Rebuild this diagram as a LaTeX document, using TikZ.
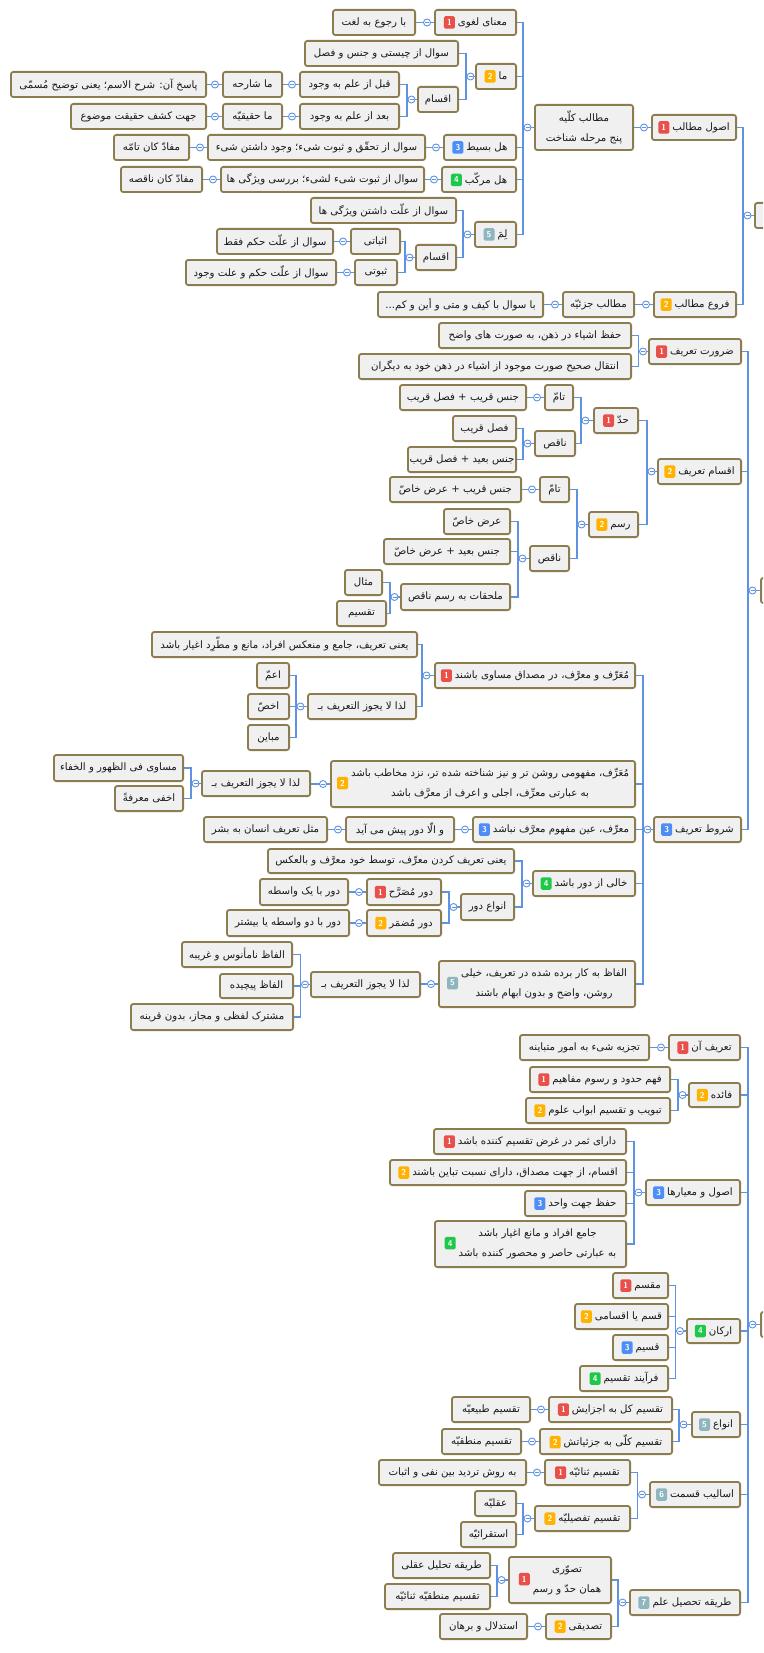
\documentclass[tikz,border=0pt]{standalone}
\usepackage{fontspec}
\newfontfamily\arfont[Script=Arabic]{DejaVu Sans}
\TeXXeTstate=1
\usetikzlibrary{calc}
\definecolor{edge}{RGB}{140,125,80}
\definecolor{boxfill}{RGB}{240,240,240}
\definecolor{conncol}{RGB}{96,146,226}
\definecolor{txt}{RGB}{25,25,25}
\definecolor{bA}{RGB}{233,80,74}
\definecolor{bB}{RGB}{255,178,0}
\definecolor{bC}{RGB}{77,141,245}
\definecolor{bD}{RGB}{30,200,75}
\definecolor{bE}{RGB}{143,182,190}
\pgfdeclarelayer{bg}
\pgfsetlayers{bg,main}
\tikzset{
 box/.style={draw=edge, fill=boxfill, line width=1.8pt, rounded corners=2.5pt, inner sep=1pt, text=txt, align=center, font=\arfont\fontsize{10.2}{12}\selectfont},
 conn/.style={draw=conncol, line width=1.2pt},
 coll/.style={circle, draw=conncol, fill=white, line width=0.9pt, minimum size=7pt, inner sep=0pt,
   path picture={\draw[conncol, line width=0.8pt] ([xshift=-2pt]path picture bounding box.center) -- ([xshift=2pt]path picture bounding box.center);}},
}
\newcommand\AR[1]{\beginR #1\endR}
\newcommand\BD[2]{\tikz[baseline={([yshift=-3.4pt]b.center)}]\node[draw=none,fill=#1,rounded corners=1.5pt,inner sep=0pt,minimum width=11pt,minimum height=12.5pt,text=white,anchor=center,font=\sffamily\bfseries\fontsize{8.5}{9}\selectfont](b){#2};\hspace{3pt}}
\newcommand\BX[6]{\node[box,minimum width={(#3-#2-1.8)*1pt},minimum height={(#5-#4-1.8)*1pt}] (#1) at ({(#2+#3)/2},{(#4+#5)/2}) {#6};}
\newcommand\KIDS[3][10]{%
 \begin{pgfonlayer}{bg}
 \draw[conn] (#2.west) -- ++(-#1,0);
 \foreach \kid in {#3}{\draw[conn] ([xshift=-#1pt]#2.west) |- (\kid.east);}
 \end{pgfonlayer}
 \node[coll] at ([xshift={-(#1-4.5)*1pt}]#2.west) {};}
\newcommand\ONE[2]{%
 \begin{pgfonlayer}{bg}\draw[conn] (#1.west) -- (#2.east |- #1.west);\end{pgfonlayer}
 \node[coll] at ([xshift=-7pt]#1.west) {};}
\begin{document}
\begin{tikzpicture}[x=1pt,y=-1pt]
\begin{pgfonlayer}{bg}\fill[white] (0,0) rectangle (763,1653);\end{pgfonlayer}
\useasboundingbox (0,0) rectangle (763,1653);
\clip (0,0) rectangle (763,1653);
% ---------- top group ----------
\BX{A}{754}{840}{202}{229}{}
\BX{N0}{651}{737}{114}{141}{\BD{bA}{1}\AR{اصول مطالب}}
\BX{N3}{534}{634}{104}{151}{\AR{مطالب کلّیه}\\[8pt]\AR{پنج مرحله شناخت}}
\BX{N1}{434}{517}{9}{36}{\BD{bA}{1}\AR{معنای لغوی}}
\BX{N1a}{332}{416}{9}{36}{\AR{با رجوع به لغت}}
\BX{N2}{475}{517}{63}{90}{\BD{bB}{2}\AR{ما}}
\BX{N2a}{304}{459}{40}{67}{\AR{سوال از چیستی و جنس و فصل}}
\BX{N2b}{417}{459}{86}{113}{\AR{اقسام}}
\BX{N2ba}{299}{400}{71}{98}{\AR{قبل از علم به وجود}}
\BX{N2bb}{299}{400}{103}{130}{\AR{بعد از علم به وجود}}
\BX{N2baa}{222}{283}{71}{98}{\AR{ما شارحه}}
\BX{N2baaa}{10}{207}{71}{98}{\AR{پاسخ آن: شرح الاسم؛ یعنی توضیح مُسمّی}}
\BX{N2bba}{222}{283}{103}{130}{\AR{ما حقیقیّه}}
\BX{N2bbaa}{70}{207}{103}{130}{\AR{جهت کشف حقیقت موضوع}}
\BX{N4}{443}{517}{134}{161}{\BD{bC}{3}\AR{هل بسیط}}
\BX{N4a}{207}{426}{134}{161}{\AR{سوال از تحقّق و ثبوت شیء؛ وجود داشتن شیء}}
\BX{N4aa}{113}{190}{134}{161}{\AR{مفادّ کان تامّه}}
\BX{N5}{441}{517}{166}{193}{\BD{bD}{4}\AR{هل مرکّب}}
\BX{N5a}{220}{425}{166}{193}{\AR{سوال از ثبوت شیء لشیء؛ بررسی ویژگی ها}}
\BX{N5aa}{120}{203}{166}{193}{\AR{مفادّ کان ناقصه}}
\BX{N6}{474}{517}{221}{248}{\BD{bE}{5}\AR{لِمَ}}
\BX{N6a}{310}{457}{197}{224}{\AR{سوال از علّت داشتن ویژگی ها}}
\BX{N6b}{415}{457}{244}{271}{\AR{اقسام}}
\BX{N6ba}{350}{401}{228}{255}{\AR{اثباتی}}
\BX{N6bb}{354}{398}{259}{286}{\AR{ثبوتی}}
\BX{N6baa}{216}{334}{228}{255}{\AR{سوال از علّت حکم فقط}}
\BX{N6bba}{185}{337}{259}{286}{\AR{سوال از علّت حکم و علت وجود}}
\BX{P2}{653}{737}{291}{318}{\BD{bB}{2}\AR{فروع مطالب}}
\BX{P2a}{562}{635}{291}{318}{\AR{مطالب جزئیّه}}
\BX{P2aa}{377}{544}{291}{318}{\AR{با سوال با کیف و متی و أین و کم...}}
\KIDS[11]{A}{N0,P2}
\ONE{N0}{N3}
\KIDS[11]{N3}{N1,N2,N4,N5,N6}
\ONE{N1}{N1a}
\KIDS[9]{N2}{N2a,N2b}
\KIDS[10]{N2b}{N2ba,N2bb}
\ONE{N2ba}{N2baa}\ONE{N2baa}{N2baaa}
\ONE{N2bb}{N2bba}\ONE{N2bba}{N2bbaa}
\ONE{N4}{N4a}\ONE{N4a}{N4aa}
\ONE{N5}{N5a}\ONE{N5a}{N5aa}
\KIDS[11]{N6}{N6a,N6b}
\KIDS[10]{N6b}{N6ba,N6bb}
\ONE{N6ba}{N6baa}\ONE{N6bb}{N6bba}
\ONE{P2}{P2a}\ONE{P2a}{P2aa}
% ---------- middle group ----------
\BX{B}{760}{840}{577}{604}{}
\BX{Q1}{648}{742}{338}{365}{\BD{bA}{1}\AR{ضرورت تعریف}}
\BX{Q1a}{438}{632}{322}{349}{\AR{حفظ اشیاء در ذهن، به صورت های واضح}}
\BX{Q1b}{358}{632}{353}{380}{\AR{انتقال صحیح صورت موجود از اشیاء در ذهن خود به دیگران}}
\BX{Q2}{657}{742}{458}{485}{\BD{bB}{2}\AR{اقسام تعریف}}
\BX{R1}{593}{639}{407}{434}{\BD{bA}{1}\AR{حدّ}}
\BX{R1a}{544}{574}{384}{411}{\AR{تامّ}}
\BX{R1aa}{399}{527}{384}{411}{\AR{جنس قریب + فصل قریب}}
\BX{R1b}{534}{576}{430}{457}{\AR{ناقص}}
\BX{R1ba}{452}{517}{415}{442}{\AR{فصل قریب}}
\BX{R1bb}{407}{517}{446}{473}{\AR{جنس بعید + فصل قریب}}
\BX{R2}{588}{639}{511}{538}{\BD{bB}{2}\AR{رسم}}
\BX{R2a}{539}{570}{476}{503}{\AR{تامّ}}
\BX{R2aa}{389}{522}{476}{503}{\AR{جنس قریب + عرض خاصّ}}
\BX{R2b}{529}{570}{545}{572}{\AR{ناقص}}
\BX{R2ba}{443}{511}{508}{535}{\AR{عرض خاصّ}}
\BX{R2bb}{383}{511}{538}{565}{\AR{جنس بعید + عرض خاصّ}}
\BX{R2bc}{400}{511}{583}{611}{\AR{ملحقات به رسم ناقص}}
\BX{R2bca}{344}{383}{569}{596}{\AR{مثال}}
\BX{R2bcb}{336}{387}{600}{627}{\AR{تقسیم}}
\BX{Q3}{653}{742}{816}{843}{\BD{bC}{3}\AR{شروط تعریف}}
\BX{S1}{434}{636}{662}{689}{\BD{bA}{1}\AR{مُعَرِّف و معرَّف، در مصداق مساوی باشند}}
\BX{S1a}{151}{418}{631}{658}{\AR{یعنی تعریف، جامع و منعکس افراد، مانع و مطّرِد اغیار باشد}}
\BX{S1b}{307}{417}{693}{720}{\AR{لذا لا یجوز التعریف بـ}}
\BX{S1ba}{256}{290}{662}{689}{\AR{اعمّ}}
\BX{S1bb}{247}{290}{693}{720}{\AR{اخصّ}}
\BX{S1bc}{247}{290}{724}{751}{\AR{مباین}}
\BX{S2}{330}{636}{760}{808}{\BD{bB}{2}\begin{tabular}{@{}c@{}}\AR{مُعَرِّف، مفهومی روشن تر و نیز شناخته شده تر، نزد مخاطب باشد}\\[8pt]\AR{به عبارتی معرِّف، اجلی و اعرف از معرَّف باشد}\end{tabular}}
\BX{S2a}{201}{311}{770}{797}{\AR{لذا لا یجوز التعریف بـ}}
\BX{S2aa}{53}{184}{754}{782}{\AR{مساوی فی الظهور و الخفاء}}
\BX{S2ab}{114}{184}{785}{812}{\AR{اخفی معرفةً}}
\BX{S3}{472}{636}{816}{843}{\BD{bC}{3}\AR{معرِّف، عین مفهوم معرَّف نباشد}}
\BX{S3a}{345}{455}{816}{843}{\AR{و الّا دور پیش می آید}}
\BX{S3aa}{203}{328}{816}{843}{\AR{مثل تعریف انسان به بشر}}
\BX{S4}{532}{636}{870}{897}{\BD{bD}{4}\AR{خالی از دور باشد}}
\BX{S4a}{267}{515}{848}{874}{\AR{یعنی تعریف کردن معرِّف، توسط خود معرَّف و بالعکس}}
\BX{S4b}{460}{515}{893}{921}{\AR{انواع دور}}
\BX{S4ba}{366}{442}{878}{906}{\BD{bA}{1}\AR{دور مُصَرَّح}}
\BX{S4baa}{259}{349}{878}{906}{\AR{دور با یک واسطه}}
\BX{S4bb}{366}{442}{909}{937}{\BD{bB}{2}\AR{دور مُضمَر}}
\BX{S4bba}{226}{350}{909}{937}{\AR{دور با دو واسطه یا بیشتر}}
\BX{S5}{438}{636}{960}{1008}{\BD{bE}{5}\begin{tabular}{@{}c@{}}\AR{الفاظ به کار برده شده در تعریف، خیلی}\\[8pt]\AR{روشن، واضح و بدون ابهام باشند}\end{tabular}}
\BX{S5a}{310}{421}{971}{998}{\AR{لذا لا یجوز التعریف بـ}}
\BX{S5aa}{181}{293}{941}{968}{\AR{الفاظ نامأنوس و غریبه}}
\BX{S5ab}{219}{294}{973}{999}{\AR{الفاظ پیچیده}}
\BX{S5ac}{130}{294}{1003}{1031}{\AR{مشترک لفظی و مجاز، بدون قرینه}}
\KIDS[12]{B}{Q1,Q2,Q3}
\KIDS[9.5]{Q1}{Q1a,Q1b}
\KIDS[10]{Q2}{R1,R2}
\KIDS[12]{R1}{R1a,R1b}
\ONE{R1a}{R1aa}
\KIDS[11]{R1b}{R1ba,R1bb}
\KIDS[11]{R2}{R2a,R2b}
\ONE{R2a}{R2aa}
\KIDS[11]{R2b}{R2ba,R2bb,R2bc}
\KIDS[10]{R2bc}{R2bca,R2bcb}
\KIDS[10]{Q3}{S1,S2,S3,S4,S5}
\KIDS[12]{S1}{S1a,S1b}
\KIDS[11]{S1b}{S1ba,S1bb,S1bc}
\ONE{S2}{S2a}
\KIDS[10]{S2a}{S2aa,S2ab}
\ONE{S3}{S3a}\ONE{S3a}{S3aa}
\KIDS[10]{S4}{S4a,S4b}
\KIDS[11]{S4b}{S4ba,S4bb}
\ONE{S4ba}{S4baa}\ONE{S4bb}{S4bba}
\ONE{S5}{S5a}
\KIDS[9.5]{S5a}{S5aa,S5ab,S5ac}
% ---------- bottom group ----------
\BX{C}{760}{840}{1311}{1338}{}
\BX{T1}{668}{741}{1034}{1061}{\BD{bA}{1}\AR{تعریف آن}}
\BX{T1a}{519}{650}{1034}{1061}{\AR{تجزیه شیء به امور متباینه}}
\BX{T2}{688}{741}{1082}{1108}{\BD{bB}{2}\AR{فائده}}
\BX{T2a}{529}{671}{1066}{1093}{\BD{bA}{1}\AR{فهم حدود و رسوم مفاهیم}}
\BX{T2b}{525}{671}{1097}{1124}{\BD{bB}{2}\AR{تبویب و تقسیم ابواب علوم}}
\BX{T3}{645}{741}{1179}{1206}{\BD{bC}{3}\AR{اصول و معیارها}}
\BX{T3a}{433}{627}{1128}{1155}{\BD{bA}{1}\AR{دارای ثمر در غرض تقسیم کننده باشد}}
\BX{T3b}{389}{627}{1159}{1186}{\BD{bB}{2}\AR{اقسام، از جهت مصداق، دارای نسبت تباین باشند}}
\BX{T3c}{524}{627}{1190}{1217}{\BD{bC}{3}\AR{حفظ جهت واحد}}
\BX{T3d}{434}{627}{1220}{1268}{\BD{bD}{4}\begin{tabular}{@{}c@{}}\AR{جامع افراد و مانع اغیار باشد}\\[8pt]\AR{به عبارتی حاصر و محصور کننده باشد}\end{tabular}}
\BX{T4}{686}{741}{1318}{1344}{\BD{bD}{4}\AR{ارکان}}
\BX{T4a}{612}{669}{1272}{1299}{\BD{bA}{1}\AR{مقسم}}
\BX{T4b}{574}{669}{1303}{1330}{\BD{bB}{2}\AR{قسم یا اقسامی}}
\BX{T4c}{612}{669}{1334}{1361}{\BD{bC}{3}\AR{قسیم}}
\BX{T4d}{579}{669}{1365}{1392}{\BD{bD}{4}\AR{فرآیند تقسیم}}
\BX{T5}{691}{741}{1411}{1438}{\BD{bE}{5}\AR{انواع}}
\BX{T5a}{548}{673}{1396}{1423}{\BD{bA}{1}\AR{تقسیم کل به اجزایش}}
\BX{T5aa}{451}{531}{1396}{1423}{\AR{تقسیم طبیعیّه}}
\BX{T5b}{539}{673}{1428}{1455}{\BD{bB}{2}\AR{تقسیم کلّی به جزئیاتش}}
\BX{T5ba}{441}{522}{1428}{1455}{\AR{تقسیم منطقیّه}}
\BX{T6}{649}{741}{1481}{1508}{\BD{bE}{6}\AR{اسالیب قسمت}}
\BX{T6a}{544}{631}{1459}{1486}{\BD{bA}{1}\AR{تقسیم ثنائیّه}}
\BX{T6aa}{378}{527}{1459}{1486}{\AR{به روش تردید بین نفی و اثبات}}
\BX{T6b}{534}{631}{1505}{1532}{\BD{bB}{2}\AR{تقسیم تفصیلیّه}}
\BX{T6ba}{474}{517}{1490}{1517}{\AR{عقلیّه}}
\BX{T6bb}{460}{517}{1521}{1548}{\AR{استقرائیّه}}
\BX{T7}{629}{741}{1589}{1616}{\BD{bE}{7}\AR{طریقه تحصیل علم}}
\BX{T7a}{508}{612}{1556}{1604}{\BD{bA}{1}\begin{tabular}{@{}c@{}}\AR{تصوّری}\\[8pt]\AR{همان حدّ و رسم}\end{tabular}}
\BX{T7aa}{392}{491}{1552}{1579}{\AR{طریقه تحلیل عقلی}}
\BX{T7ab}{384}{491}{1583}{1610}{\AR{تقسیم منطقیّه ثنائیّه}}
\BX{T7b}{545}{612}{1613}{1640}{\BD{bB}{2}\AR{تصدیقی}}
\BX{T7ba}{439}{528}{1613}{1640}{\AR{استدلال و برهان}}
\KIDS[12]{C}{T1,T2,T3,T4,T5,T6,T7}
\ONE{T1}{T1a}
\KIDS[10]{T2}{T2a,T2b}
\KIDS[11]{T3}{T3a,T3b,T3c,T3d}
\KIDS[10.5]{T4}{T4a,T4b,T4c,T4d}
\KIDS[12]{T5}{T5a,T5b}
\ONE{T5a}{T5aa}\ONE{T5b}{T5ba}
\KIDS[11.5]{T6}{T6a,T6b}
\ONE{T6a}{T6aa}
\KIDS[11]{T6b}{T6ba,T6bb}
\KIDS[11]{T7}{T7a,T7b}
\KIDS[11]{T7a}{T7aa,T7ab}
\ONE{T7b}{T7ba}
\end{tikzpicture}
\end{document}
